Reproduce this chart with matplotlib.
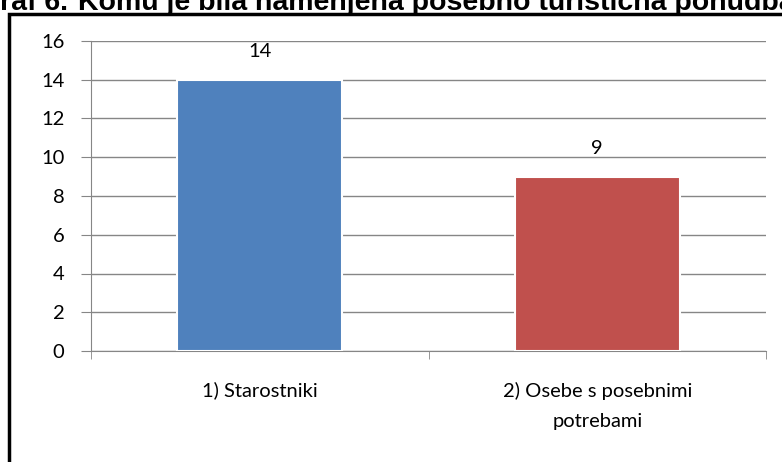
import matplotlib.pyplot as plt
from matplotlib.patches import Rectangle

categories = ["1) Starostniki", "2) Osebe s posebnimi\npotrebami"]
values = [14, 9]
colors = ["#4F81BD", "#C0504D"]
yticks = [0, 2, 4, 6, 8, 10, 12, 14, 16]

plt.rcParams["font.family"] = ["Lato", "DejaVu Sans"]

W, H = 782, 462
fig = plt.figure(figsize=(W / 100, H / 100), dpi=100)

# outer black frame (runs off the right and bottom edges)
fig.patches.append(Rectangle((9 / W, -0.1), 1.2, (H - 14) / H + 0.1,
                             transform=fig.transFigure, fill=False,
                             edgecolor="black", linewidth=2.5))

# title sits partly above the picture, as in the source
fig.text(68 / W, (H - 10) / H, "Graf 6.", ha="right", va="baseline",
         fontsize=20.5, fontweight="bold", family="Liberation Sans")
fig.text(78 / W, (H - 10) / H,
         "Komu je bila namenjena posebno turistična ponudba",
         ha="left", va="baseline", fontsize=20.5, fontweight="bold",
         family="Liberation Sans")

ax = fig.add_axes([91 / W, 111 / H, 675 / W, 310 / H])
x = list(range(len(categories)))
bars = ax.bar(x, values, width=0.49, color=colors, edgecolor="white",
              linewidth=1.5, zorder=3)
for b, v in zip(bars, values):
    ax.annotate(str(v), (b.get_x() + b.get_width() / 2, v),
                xytext=(0, 20), textcoords="offset points",
                ha="center", va="center", fontsize=14.5)

ax.set_xlim(-0.5, 1.5)
ax.set_ylim(0, 16)
ax.set_yticks(yticks)
ax.yaxis.grid(True, color="#868686", linewidth=1, zorder=0)
ax.set_axisbelow(True)

ax.set_xticks(x)
ax.set_xticklabels(categories, fontsize=14.5, linespacing=1.95)
ax.set_xticks([-0.5, 0.5, 1.5], minor=True)
ax.tick_params(axis="x", which="major", length=0, pad=22)
ax.tick_params(axis="x", which="minor", length=6, color="#868686",
               direction="out")
ax.tick_params(axis="y", length=7, color="#868686", labelsize=14.5, pad=12)

for s in ["top", "right"]:
    ax.spines[s].set_visible(False)
for s in ["left", "bottom"]:
    ax.spines[s].set_color("#868686")

fig.savefig("out.png", dpi=100)
